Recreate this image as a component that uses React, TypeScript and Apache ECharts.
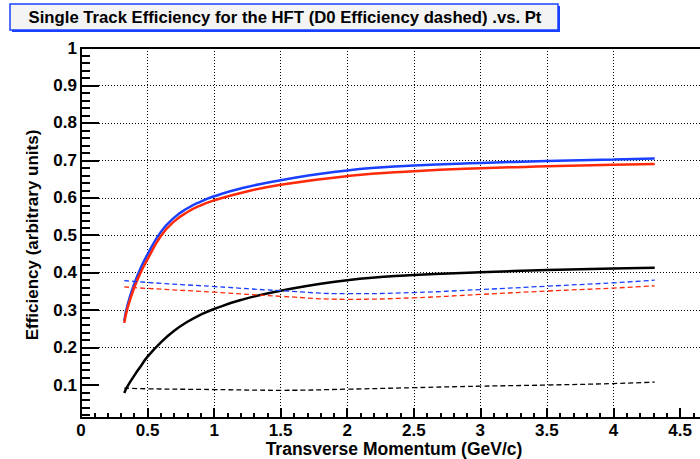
import React, { useEffect, useRef } from "react";
import * as echarts from "echarts";

const xSolid = [0.325, 0.35, 0.4, 0.45, 0.5, 0.6, 0.7, 0.8, 0.9, 1.0, 1.2, 1.5, 2.0, 2.5, 3.0, 3.5, 4.0, 4.31];
const blueSolid = [0.272, 0.3145, 0.37, 0.414, 0.449, 0.509, 0.547, 0.572, 0.59, 0.604, 0.625, 0.647, 0.673, 0.686, 0.693, 0.698, 0.702, 0.705];
const redSolid = [0.266, 0.306, 0.36, 0.402, 0.436, 0.498, 0.537, 0.562, 0.58, 0.593, 0.613, 0.635, 0.658, 0.671, 0.679, 0.684, 0.688, 0.69];
const blackSolid = [0.079, 0.097, 0.125, 0.151, 0.176, 0.214, 0.245, 0.269, 0.288, 0.303, 0.327, 0.352, 0.38, 0.394, 0.401, 0.407, 0.411, 0.413];

const xDashed = [0.325, 0.5, 1.0, 1.5, 2.0, 2.5, 3.0, 3.5, 4.0, 4.31];
const blueDashed = [0.379, 0.374, 0.363, 0.352, 0.344, 0.347, 0.355, 0.364, 0.373, 0.38];
const redDashed = [0.362, 0.358, 0.348, 0.337, 0.329, 0.333, 0.342, 0.351, 0.359, 0.365];
const blackDashed = [0.092, 0.09, 0.088, 0.086, 0.089, 0.093, 0.097, 0.1, 0.104, 0.108];

const xTickLabels = [0, 0.5, 1, 1.5, 2, 2.5, 3, 3.5, 4, 4.5];
const yTickLabels = [0.1, 0.2, 0.3, 0.4, 0.5, 0.6, 0.7, 0.8, 0.9, 1];

const TITLE = "Single Track Efficiency for the HFT (D0 Efficiency dashed) .vs. Pt";
const X_TITLE = "Transverse Momentum (GeV/c)";
const Y_TITLE = "Efficiency (arbitrary units)";

const FONT = "'Liberation Sans', Arial, Helvetica, sans-serif";
const BLUE = "#1a40ff";
const RED = "#ff2a0a";

const X_MIN = 0;
const X_MAX = 4.65;
const Y_MIN = 0.012;
const Y_MAX = 1;

const pairs = (xs: number[], ys: number[]) => xs.map((x, i) => [x, ys[i]]);

const xMinor: number[] = [];
for (let i = 1; i <= 46; i++) xMinor.push(i / 10);
const yMinor: number[] = [];
for (let i = 1; i <= 50; i++) yMinor.push(i / 50);

export default function App() {
  const ref = useRef<HTMLDivElement>(null);
  useEffect(() => {
    const chart = echarts.init(ref.current!, null, { renderer: "svg" });
    const lbl = {
      fontFamily: FONT,
      fontWeight: "bold" as const,
      fontSize: 17,
      color: "#000",
    };
    const dotted = { color: "#000", width: 1, type: [1, 2] as any };
    const tickStyle = { color: "#000", width: 2 };
    chart.setOption({
      animation: false,
      backgroundColor: "#fff",
      grid: { left: 81, right: 0, top: 48, bottom: 41, containLabel: false, outerBoundsMode: "none", show: false },
      xAxis: [
        {
          type: "value",
          min: X_MIN,
          max: X_MAX,
          interval: 0.5,
          position: "bottom",
          axisLine: { show: true, onZero: false, lineStyle: { color: "#000", width: 2 } },
          axisTick: { show: true, inside: true, length: 10, customValues: xTickLabels, lineStyle: tickStyle },
          axisLabel: {
            ...lbl,
            margin: 4,
            customValues: xTickLabels,
            formatter: (v: number) => `${Math.round(v * 10) / 10}`,
          },
          splitLine: { show: true, showMaxLine: false, lineStyle: dotted },
        },
        {
          type: "value",
          min: X_MIN,
          max: X_MAX,
          position: "bottom",
          axisLine: { show: false, onZero: false },
          axisTick: { show: true, inside: true, length: 5, customValues: xMinor, lineStyle: tickStyle },
          axisLabel: { show: false },
          splitLine: { show: false },
        },
        {
          type: "value",
          min: X_MIN,
          max: X_MAX,
          position: "top",
          axisLine: { show: true, onZero: false, lineStyle: { color: "#000", width: 2 } },
          axisTick: { show: false },
          axisLabel: { show: false },
          splitLine: { show: false },
        },
      ],
      yAxis: [
        {
          type: "value",
          min: Y_MIN,
          max: Y_MAX,
          splitNumber: 10,
          position: "left",
          axisLine: { show: true, onZero: false, lineStyle: { color: "#000", width: 2 } },
          axisTick: { show: true, inside: true, length: 18, customValues: yTickLabels, lineStyle: tickStyle },
          axisLabel: {
            ...lbl,
            margin: 4,
            customValues: yTickLabels,
            formatter: (v: number) => `${Math.round(v * 10) / 10}`,
          },
          splitLine: { show: true, showMinLine: false, lineStyle: dotted },
        },
        {
          type: "value",
          min: Y_MIN,
          max: Y_MAX,
          position: "left",
          axisLine: { show: false, onZero: false },
          axisTick: { show: true, inside: true, length: 9, customValues: yMinor, lineStyle: tickStyle },
          axisLabel: { show: false },
          splitLine: { show: false },
        },
      ],
      series: [
        { type: "line", data: pairs(xSolid, blueSolid), smooth: true, showSymbol: false, lineStyle: { color: BLUE, width: 2.5 } },
        { type: "line", data: pairs(xSolid, redSolid), smooth: true, showSymbol: false, lineStyle: { color: RED, width: 2.5 } },
        { type: "line", data: pairs(xSolid, blackSolid), smooth: true, showSymbol: false, lineStyle: { color: "#000", width: 2.5 } },
        { type: "line", data: pairs(xDashed, blueDashed), smooth: true, showSymbol: false, lineStyle: { color: BLUE, width: 1.3, type: [5, 3] } },
        { type: "line", data: pairs(xDashed, redDashed), smooth: true, showSymbol: false, lineStyle: { color: RED, width: 1.3, type: [5, 3] } },
        { type: "line", data: pairs(xDashed, blackDashed), smooth: true, showSymbol: false, lineStyle: { color: "#000", width: 1.3, type: [5, 3] } },
      ],
      graphic: [
        { type: "rect", shape: { x: 12, y: 6, width: 548, height: 26 }, style: { fill: BLUE } },
        { type: "rect", shape: { x: 10, y: 4, width: 548, height: 26 }, style: { fill: "#f4f4f4", stroke: BLUE, lineWidth: 1.5 } },
        {
          type: "text",
          x: 285,
          y: 17.5,
          style: { text: TITLE, font: `bold 16.7px ${FONT}`, fill: "#000", align: "center", verticalAlign: "middle" },
        },
        {
          type: "text",
          x: 394,
          y: 449,
          style: { text: X_TITLE, font: `bold 17.5px ${FONT}`, fill: "#000", align: "center", verticalAlign: "middle" },
        },
        {
          type: "text",
          x: 32,
          y: 235,
          rotation: Math.PI / 2,
          style: { text: Y_TITLE, font: `bold 17px ${FONT}`, fill: "#000", align: "center", verticalAlign: "middle" },
        },
      ],
    });
    return () => chart.dispose();
  }, []);
  return <div ref={ref} style={{ position: "fixed", left: 0, top: 0, width: 700, height: 459 }} />;
}
